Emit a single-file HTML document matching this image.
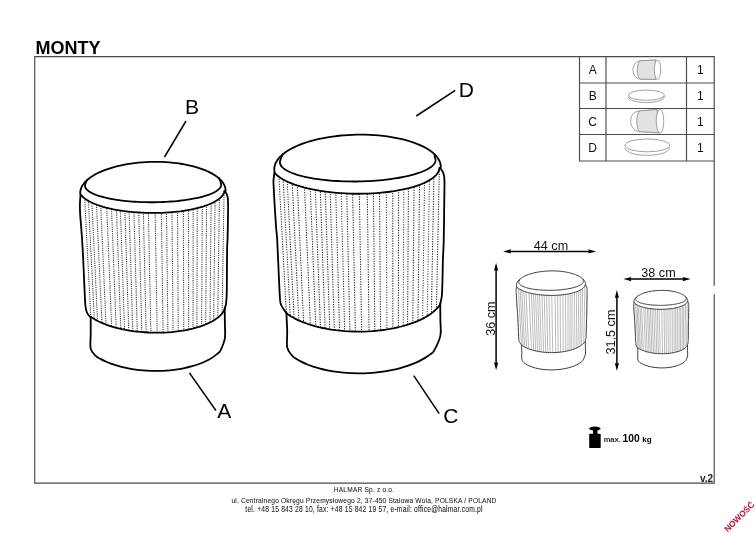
<!DOCTYPE html>
<html><head><meta charset="utf-8"><style>
html,body{margin:0;padding:0;background:#fff;}
body{width:756px;height:534px;overflow:hidden;position:relative;font-family:"Liberation Sans",sans-serif;}
svg{position:absolute;left:0;top:0;will-change:transform;}
.ol{stroke:#000;stroke-width:1.8;stroke-linejoin:round;stroke-linecap:round;fill:none;}
.pl line{stroke:#262626;stroke-width:1.05;}
.ld{stroke:#000;stroke-width:1.5;}
.tl{stroke:#4a4a4a;stroke-width:1.15;fill:none;}
.lab{font-size:21px;fill:#000;}
.tt{font-size:12px;fill:#111;}
.ft{font-size:6.6px;letter-spacing:0.19px;fill:#1a1a1a;stroke:#1a1a1a;stroke-width:0.06px;}
.mo{stroke:#383838;stroke-width:1;fill:none;vector-effect:non-scaling-stroke;stroke-linejoin:round;}
.mpl line{stroke:#9e9e9e;stroke-width:0.7;vector-effect:non-scaling-stroke;}
.th{stroke:#8a8a8a;stroke-width:0.8;fill:#fff;}
.ar{stroke:#000;stroke-width:1.5;}
.dim{font-size:12.6px;fill:#111;}
</style></head><body>
<svg width="756" height="534" viewBox="0 0 756 534">
<text x="35.6" y="54.3" style="font-weight:bold;font-size:18px">MONTY</text>
<path class="tl" d="M714.2,285.7 L714.2,56.6 L34.75,56.6 L34.75,483.1 L714.2,483.1 L714.2,294.3"/>
<path class="tl" d="M579.5,56.5 V161 H714.2 M606,56.5 V161 M686.5,56.5 V161 M579.5,83 H714.2 M579.5,108.5 H714.2 M579.5,134.5 H714.2"/>
<g class="tt" text-anchor="middle">
<text x="592.7" y="73.9">A</text><text x="592.7" y="99.6">B</text><text x="592.7" y="125.9">C</text><text x="592.7" y="151.9">D</text>
<text x="700.3" y="74.1">1</text><text x="700.3" y="100">1</text><text x="700.3" y="126">1</text><text x="700.3" y="152">1</text>
</g>

<clipPath id="lpc"><path d="M80.60,193.80 C80.48,195.67 79.97,201.47 79.90,205.00 C79.83,208.53 80.02,211.67 80.20,215.00 C80.38,218.33 80.68,220.83 81.00,225.00 C81.32,229.17 81.77,235.00 82.10,240.00 C82.43,245.00 82.67,248.33 83.00,255.00 C83.33,261.67 83.77,272.50 84.10,280.00 C84.43,287.50 84.77,295.67 85.00,300.00 C85.23,304.33 85.27,304.17 85.50,306.00 C85.73,307.83 85.92,309.50 86.40,311.00 C86.88,312.50 87.68,314.00 88.40,315.00 C89.12,316.00 90.32,316.67 90.70,317.00L91.03,316.93 L93.10,318.32 L95.34,319.66 L97.75,320.96 L100.33,322.21 L103.05,323.40 L105.92,324.53 L108.93,325.60 L112.06,326.60 L115.31,327.53 L118.68,328.40 L122.14,329.19 L125.70,329.90 L129.33,330.54 L133.03,331.10 L136.80,331.57 L140.61,331.96 L144.45,332.27 L148.33,332.50 L152.21,332.63 L156.10,332.69 L159.98,332.65 L163.85,332.53 L167.68,332.33 L171.47,332.04 L175.21,331.67 L178.89,331.21 L182.49,330.67 L186.01,330.05 L189.43,329.36 L192.75,328.58 L195.96,327.73 L199.05,326.82 L202.00,325.83 L204.81,324.77 L207.47,323.66 L209.98,322.48 L212.32,321.24 L214.49,319.96 L216.49,318.62 L218.31,317.24 L219.93,315.82 L221.37,314.36 L222.61,312.86 L223.65,311.34 L224.48,309.80 L225.11,308.23  L224.70,308.20 C224.88,307.67 225.52,306.37 225.80,305.00 C226.08,303.63 226.23,302.50 226.40,300.00 C226.57,297.50 226.68,298.33 226.80,290.00 C226.92,281.67 226.97,258.57 227.10,250.00 C227.23,241.43 227.47,243.32 227.60,238.60 C227.73,233.88 227.82,227.32 227.90,221.70 C227.98,216.08 228.12,208.83 228.10,204.90 C228.08,200.97 228.03,199.88 227.80,198.10 C227.57,196.32 227.23,195.35 226.70,194.20 C226.17,193.05 224.95,191.70 224.60,191.20 Z"/></clipPath>
<g clip-path="url(#lpc)" class="pl" stroke-dasharray="1.05 1.15"><line x1="83.99" y1="185" x2="91.98" y2="340" stroke-dashoffset="0.65"/><line x1="87.62" y1="185" x2="95.33" y2="340" stroke-dashoffset="0.30"/><line x1="91.04" y1="185" x2="98.49" y2="340" stroke-dashoffset="1.30"/><line x1="95.59" y1="185" x2="102.71" y2="340" stroke-dashoffset="0.14"/><line x1="99.84" y1="185" x2="106.64" y2="340" stroke-dashoffset="1.07"/><line x1="105.85" y1="185" x2="112.20" y2="340" stroke-dashoffset="0.73"/><line x1="110.61" y1="185" x2="116.61" y2="340" stroke-dashoffset="0.12"/><line x1="115.59" y1="185" x2="121.21" y2="340" stroke-dashoffset="1.01"/><line x1="119.52" y1="185" x2="124.86" y2="340" stroke-dashoffset="0.07"/><line x1="124.08" y1="185" x2="129.07" y2="340" stroke-dashoffset="0.87"/><line x1="128.33" y1="185" x2="133.01" y2="340" stroke-dashoffset="0.14"/><line x1="133.20" y1="185" x2="137.51" y2="340" stroke-dashoffset="0.18"/><line x1="138.06" y1="185" x2="142.02" y2="340" stroke-dashoffset="0.85"/><line x1="142.73" y1="185" x2="146.33" y2="340" stroke-dashoffset="1.65"/><line x1="147.80" y1="185" x2="151.03" y2="340" stroke-dashoffset="0.25"/><line x1="154.64" y1="185" x2="157.35" y2="340" stroke-dashoffset="0.45"/><line x1="160.96" y1="185" x2="163.20" y2="340" stroke-dashoffset="1.25"/><line x1="166.14" y1="185" x2="168.00" y2="340" stroke-dashoffset="1.90"/><line x1="171.73" y1="185" x2="173.17" y2="340" stroke-dashoffset="1.15"/><line x1="177.32" y1="185" x2="178.35" y2="340" stroke-dashoffset="0.79"/><line x1="183.23" y1="185" x2="183.81" y2="340" stroke-dashoffset="1.95"/><line x1="188.51" y1="185" x2="188.70" y2="340" stroke-dashoffset="0.09"/><line x1="193.17" y1="185" x2="193.02" y2="340" stroke-dashoffset="1.72"/><line x1="197.32" y1="185" x2="196.85" y2="340" stroke-dashoffset="0.58"/><line x1="202.39" y1="185" x2="201.55" y2="340" stroke-dashoffset="0.29"/><line x1="206.74" y1="185" x2="205.57" y2="340" stroke-dashoffset="0.24"/><line x1="211.30" y1="185" x2="209.79" y2="340" stroke-dashoffset="0.62"/><line x1="215.24" y1="185" x2="213.44" y2="340" stroke-dashoffset="1.63"/><line x1="219.59" y1="185" x2="217.46" y2="340" stroke-dashoffset="0.36"/><line x1="224.15" y1="185" x2="221.68" y2="340" stroke-dashoffset="1.16"/></g>
<path d="M80.60,193.80 C80.48,195.67 79.97,201.47 79.90,205.00 C79.83,208.53 80.02,211.67 80.20,215.00 C80.38,218.33 80.68,220.83 81.00,225.00 C81.32,229.17 81.77,235.00 82.10,240.00 C82.43,245.00 82.67,248.33 83.00,255.00 C83.33,261.67 83.77,272.50 84.10,280.00 C84.43,287.50 84.77,295.67 85.00,300.00 C85.23,304.33 85.27,304.17 85.50,306.00 C85.73,307.83 85.92,309.50 86.40,311.00 C86.88,312.50 87.68,314.00 88.40,315.00 C89.12,316.00 90.32,316.67 90.70,317.00" class="ol"/>
<path d="M224.60,191.20 C224.95,191.70 226.17,193.05 226.70,194.20 C227.23,195.35 227.57,196.32 227.80,198.10 C228.03,199.88 228.08,200.97 228.10,204.90 C228.12,208.83 227.98,216.08 227.90,221.70 C227.82,227.32 227.73,233.88 227.60,238.60 C227.47,243.32 227.23,241.43 227.10,250.00 C226.97,258.57 226.92,281.67 226.80,290.00 C226.68,298.33 226.57,297.50 226.40,300.00 C226.23,302.50 226.08,303.63 225.80,305.00 C225.52,306.37 224.88,307.67 224.70,308.20" class="ol"/>
<path d="M91.03,316.93 L93.10,318.32 L95.34,319.66 L97.75,320.96 L100.33,322.21 L103.05,323.40 L105.92,324.53 L108.93,325.60 L112.06,326.60 L115.31,327.53 L118.68,328.40 L122.14,329.19 L125.70,329.90 L129.33,330.54 L133.03,331.10 L136.80,331.57 L140.61,331.96 L144.45,332.27 L148.33,332.50 L152.21,332.63 L156.10,332.69 L159.98,332.65 L163.85,332.53 L167.68,332.33 L171.47,332.04 L175.21,331.67 L178.89,331.21 L182.49,330.67 L186.01,330.05 L189.43,329.36 L192.75,328.58 L195.96,327.73 L199.05,326.82 L202.00,325.83 L204.81,324.77 L207.47,323.66 L209.98,322.48 L212.32,321.24 L214.49,319.96 L216.49,318.62 L218.31,317.24 L219.93,315.82 L221.37,314.36 L222.61,312.86 L223.65,311.34 L224.48,309.80 L225.11,308.23 L224.90,340.50 L224.90,338.10 L220.43,350.60 L217.23,353.83 L213.30,356.87 L208.68,359.69 L203.42,362.25 L197.59,364.52 L191.26,366.49 L184.49,368.11 L177.37,369.39 L169.97,370.29 L162.40,370.81 L154.73,370.95 L147.05,370.70 L139.45,370.06 L132.03,369.05 L124.87,367.67 L118.04,365.94 L111.65,363.88 L105.74,361.52 L100.40,358.88 L95.70,355.99 L90.70,348.60 L90.70,351.00  Z" fill="#fff"/>
<path d="M91.03,316.93 L93.10,318.32 L95.34,319.66 L97.75,320.96 L100.33,322.21 L103.05,323.40 L105.92,324.53 L108.93,325.60 L112.06,326.60 L115.31,327.53 L118.68,328.40 L122.14,329.19 L125.70,329.90 L129.33,330.54 L133.03,331.10 L136.80,331.57 L140.61,331.96 L144.45,332.27 L148.33,332.50 L152.21,332.63 L156.10,332.69 L159.98,332.65 L163.85,332.53 L167.68,332.33 L171.47,332.04 L175.21,331.67 L178.89,331.21 L182.49,330.67 L186.01,330.05 L189.43,329.36 L192.75,328.58 L195.96,327.73 L199.05,326.82 L202.00,325.83 L204.81,324.77 L207.47,323.66 L209.98,322.48 L212.32,321.24 L214.49,319.96 L216.49,318.62 L218.31,317.24 L219.93,315.82 L221.37,314.36 L222.61,312.86 L223.65,311.34 L224.48,309.80 L225.11,308.23 " class="ol"/>
<path d="M90.70,317.00 C90.70,319.83 90.70,328.73 90.70,334.00 C90.70,339.27 89.87,344.93 90.70,348.60 C91.53,352.27 94.08,354.28 95.70,355.99 C97.31,357.71 98.73,357.96 100.40,358.88 C102.08,359.80 103.87,360.69 105.74,361.52 C107.62,362.35 109.59,363.15 111.65,363.88 C113.70,364.62 115.84,365.31 118.04,365.94 C120.25,366.57 122.54,367.15 124.87,367.67 C127.20,368.19 129.60,368.65 132.03,369.05 C134.46,369.45 136.95,369.79 139.45,370.06 C141.96,370.34 144.50,370.55 147.05,370.70 C149.59,370.84 152.17,370.93 154.73,370.95 C157.28,370.97 159.86,370.92 162.40,370.81 C164.94,370.70 167.48,370.53 169.97,370.29 C172.47,370.05 174.95,369.75 177.37,369.39 C179.79,369.02 182.17,368.60 184.49,368.11 C186.80,367.63 189.07,367.08 191.26,366.49 C193.44,365.89 195.57,365.23 197.59,364.52 C199.62,363.82 201.58,363.05 203.42,362.25 C205.27,361.44 207.03,360.58 208.68,359.69 C210.33,358.79 211.88,357.85 213.30,356.87 C214.73,355.89 216.04,354.87 217.23,353.83 C218.42,352.78 219.15,353.22 220.43,350.60 C221.71,347.98 224.15,342.47 224.90,338.10 C225.65,333.73 224.93,329.33 224.90,324.35 C224.87,319.37 224.73,310.89 224.70,308.20" class="ol"/>
<path d="M80.27,193.81 L80.26,192.20 L80.45,190.58 L80.85,188.97 L81.46,187.37 L82.28,185.78 L83.31,184.20 L84.54,182.65 L85.96,181.13 L87.58,179.64 L89.39,178.18 L91.39,176.76 L93.56,175.39 L95.91,174.06 L98.42,172.79 L101.09,171.57 L103.91,170.41 L106.87,169.31 L109.97,168.28 L113.19,167.31 L116.52,166.42 L119.97,165.60 L123.50,164.86 L127.13,164.19 L130.83,163.61 L134.59,163.11 L138.40,162.69 L142.26,162.35 L146.15,162.10 L150.06,161.94 L153.98,161.87 L157.89,161.88 L161.79,161.97 L165.66,162.16 L169.50,162.43 L173.29,162.79 L177.02,163.23 L180.68,163.75 L184.26,164.36 L187.75,165.04 L191.13,165.80 L194.41,166.64 L197.57,167.55 L200.59,168.53 L203.48,169.58 L206.22,170.70 L208.81,171.87 L211.23,173.11 L213.49,174.40 L215.57,175.73 L217.46,177.12 L219.17,178.55 L220.69,180.01 L222.01,181.51 L223.13,183.05 L224.05,184.60 L224.76,186.18 L225.26,187.77 L225.55,189.38 L225.63,190.99 L224.37,190.99 L224.12,192.24 L223.66,193.48 L223.00,194.71 L222.12,195.93 L221.05,197.12 L219.77,198.30 L218.29,199.45 L216.62,200.58 L214.75,201.67 L212.71,202.72 L210.49,203.74 L208.09,204.72 L205.54,205.66 L202.82,206.55 L199.96,207.39 L196.95,208.18 L193.82,208.91 L190.56,209.59 L187.19,210.21 L183.71,210.77 L180.14,211.28 L176.49,211.71 L172.77,212.09 L168.99,212.40 L165.15,212.64 L161.28,212.82 L157.37,212.93 L153.45,212.97 L149.53,212.95 L145.61,212.86 L141.71,212.70 L137.84,212.47 L134.01,212.18 L130.23,211.82 L126.51,211.40 L122.86,210.92 L119.30,210.37 L115.84,209.77 L112.47,209.10 L109.23,208.38 L106.10,207.61 L103.11,206.78 L100.26,205.91 L97.55,204.98 L95.01,204.02 L92.63,203.01 L90.42,201.96 L88.39,200.88 L86.55,199.76 L84.89,198.62 L83.43,197.45 L82.16,196.26 L81.10,195.05 L80.25,193.82  Z" class="ol" style="fill:#fff"/>
<path d="M87.59,179.63 C86.07,180.93 85.89,182.29 85.25,184.18 L85.06,184.90 L85.00,185.62 L85.05,186.33 L85.23,187.05 L85.52,187.76 L85.94,188.46 L86.47,189.16 L87.12,189.86 L87.89,190.54 L88.77,191.22 L89.76,191.88 L90.87,192.54 L92.08,193.18 L93.41,193.80 L94.83,194.41 L96.37,195.01 L98.00,195.59 L99.72,196.15 L101.55,196.69 L103.46,197.21 L105.46,197.71 L107.54,198.18 L109.71,198.64 L111.95,199.07 L114.26,199.47 L116.64,199.85 L119.09,200.21 L121.59,200.54 L124.16,200.84 L126.77,201.11 L129.43,201.36 L132.13,201.57 L134.86,201.76 L137.63,201.92 L140.43,202.05 L143.25,202.15 L146.09,202.22 L148.94,202.26 L151.79,202.27 L154.65,202.25 L157.51,202.20 L160.35,202.12 L163.19,202.01 L166.01,201.87 L168.80,201.71 L171.57,201.51 L174.30,201.28 L177.00,201.03 L179.66,200.74 L182.26,200.43 L184.82,200.10 L187.32,199.73 L189.76,199.34 L192.14,198.93 L194.45,198.49 L196.68,198.03 L198.84,197.55 L200.92,197.04 L202.91,196.51 L204.81,195.97 L206.63,195.40 L208.35,194.82 L209.97,194.22 L211.49,193.60 L212.91,192.97 L214.23,192.33 L215.43,191.67 L216.53,191.00 L217.51,190.32 L218.39,189.63 L219.14,188.94 L219.78,188.23 L220.30,187.53 L220.71,186.81 L220.99,186.10 L221.16,185.38 L221.20,184.67 L221.13,183.95 L220.94,183.24 C220.26,181.35 220.33,179.55 218.82,178.24" class="ol"/>


<clipPath id="rpc"><path d="M274.50,172.60 C274.33,173.92 273.62,177.67 273.50,180.50 C273.38,183.33 273.57,184.82 273.80,189.60 C274.03,194.38 274.50,202.67 274.90,209.20 C275.30,215.73 275.82,223.67 276.20,228.80 C276.58,233.93 276.73,231.47 277.20,240.00 C277.67,248.53 278.52,270.00 279.00,280.00 C279.48,290.00 279.73,295.83 280.10,300.00 C280.47,304.17 280.52,303.33 281.20,305.00 C281.88,306.67 283.33,308.67 284.20,310.00 C285.07,311.33 286.03,312.50 286.40,313.00L286.10,313.08 L288.53,314.81 L291.17,316.48 L294.01,318.08 L297.04,319.62 L300.26,321.07 L303.65,322.45 L307.21,323.74 L310.92,324.95 L314.77,326.06 L318.75,327.08 L322.85,328.00 L327.07,328.82 L331.37,329.54 L335.76,330.15 L340.21,330.66 L344.73,331.05 L349.28,331.34 L353.87,331.52 L358.46,331.58 L363.07,331.54 L367.65,331.38 L372.22,331.11 L376.74,330.73 L381.21,330.25 L385.62,329.65 L389.94,328.96 L394.18,328.15 L398.31,327.25 L402.32,326.25 L406.21,325.15 L409.95,323.96 L413.55,322.68 L416.98,321.32 L420.24,319.88 L423.32,318.36 L426.21,316.77 L428.89,315.11 L431.37,313.39 L433.64,311.61 L435.69,309.78 L437.50,307.90 L439.09,305.98 L440.43,304.03  L440.20,304.00 C440.35,303.33 440.82,301.50 441.10,300.00 C441.38,298.50 441.67,298.33 441.90,295.00 C442.13,291.67 442.33,285.83 442.50,280.00 C442.67,274.17 442.70,266.38 442.90,260.00 C443.10,253.62 443.48,250.57 443.70,241.70 C443.92,232.83 444.07,216.35 444.20,206.80 C444.33,197.25 444.50,189.38 444.50,184.40 C444.50,179.42 444.50,179.02 444.20,176.90 C443.90,174.78 443.38,173.18 442.70,171.70 C442.02,170.22 440.53,168.62 440.10,168.00 Z"/></clipPath>
<g clip-path="url(#rpc)" class="pl" stroke-dasharray="1.2 1.3"><line x1="278.04" y1="160" x2="287.80" y2="340" stroke-dashoffset="1.28"/><line x1="282.12" y1="160" x2="291.54" y2="340" stroke-dashoffset="0.74"/><line x1="286.10" y1="160" x2="295.19" y2="340" stroke-dashoffset="1.10"/><line x1="291.13" y1="160" x2="299.79" y2="340" stroke-dashoffset="0.13"/><line x1="296.16" y1="160" x2="304.40" y2="340" stroke-dashoffset="0.12"/><line x1="303.38" y1="160" x2="311.02" y2="340" stroke-dashoffset="0.41"/><line x1="309.14" y1="160" x2="316.30" y2="340" stroke-dashoffset="1.36"/><line x1="314.17" y1="160" x2="320.91" y2="340" stroke-dashoffset="0.86"/><line x1="319.20" y1="160" x2="325.51" y2="340" stroke-dashoffset="0.63"/><line x1="324.22" y1="160" x2="330.12" y2="340" stroke-dashoffset="1.17"/><line x1="329.15" y1="160" x2="334.63" y2="340" stroke-dashoffset="0.91"/><line x1="334.80" y1="160" x2="339.81" y2="340" stroke-dashoffset="0.60"/><line x1="340.35" y1="160" x2="344.89" y2="340" stroke-dashoffset="1.59"/><line x1="346.01" y1="160" x2="350.08" y2="340" stroke-dashoffset="1.40"/><line x1="351.98" y1="160" x2="355.55" y2="340" stroke-dashoffset="0.49"/><line x1="358.78" y1="160" x2="361.78" y2="340" stroke-dashoffset="1.15"/><line x1="366.85" y1="160" x2="369.17" y2="340" stroke-dashoffset="1.05"/><line x1="373.13" y1="160" x2="374.93" y2="340" stroke-dashoffset="1.75"/><line x1="379.31" y1="160" x2="380.59" y2="340" stroke-dashoffset="1.46"/><line x1="386.22" y1="160" x2="386.92" y2="340" stroke-dashoffset="0.58"/><line x1="392.72" y1="160" x2="392.87" y2="340" stroke-dashoffset="1.96"/><line x1="398.69" y1="160" x2="398.34" y2="340" stroke-dashoffset="0.24"/><line x1="403.92" y1="160" x2="403.14" y2="340" stroke-dashoffset="0.84"/><line x1="408.63" y1="160" x2="407.46" y2="340" stroke-dashoffset="1.51"/><line x1="414.29" y1="160" x2="412.64" y2="340" stroke-dashoffset="0.30"/><line x1="419.84" y1="160" x2="417.72" y2="340" stroke-dashoffset="0.98"/><line x1="424.87" y1="160" x2="422.33" y2="340" stroke-dashoffset="0.08"/><line x1="429.79" y1="160" x2="426.84" y2="340" stroke-dashoffset="1.34"/><line x1="434.19" y1="160" x2="430.87" y2="340" stroke-dashoffset="1.53"/><line x1="439.53" y1="160" x2="435.76" y2="340" stroke-dashoffset="1.15"/></g>
<path d="M274.50,172.60 C274.33,173.92 273.62,177.67 273.50,180.50 C273.38,183.33 273.57,184.82 273.80,189.60 C274.03,194.38 274.50,202.67 274.90,209.20 C275.30,215.73 275.82,223.67 276.20,228.80 C276.58,233.93 276.73,231.47 277.20,240.00 C277.67,248.53 278.52,270.00 279.00,280.00 C279.48,290.00 279.73,295.83 280.10,300.00 C280.47,304.17 280.52,303.33 281.20,305.00 C281.88,306.67 283.33,308.67 284.20,310.00 C285.07,311.33 286.03,312.50 286.40,313.00" class="ol"/>
<path d="M440.10,168.00 C440.53,168.62 442.02,170.22 442.70,171.70 C443.38,173.18 443.90,174.78 444.20,176.90 C444.50,179.02 444.50,179.42 444.50,184.40 C444.50,189.38 444.33,197.25 444.20,206.80 C444.07,216.35 443.92,232.83 443.70,241.70 C443.48,250.57 443.10,253.62 442.90,260.00 C442.70,266.38 442.67,274.17 442.50,280.00 C442.33,285.83 442.13,291.67 441.90,295.00 C441.67,298.33 441.38,298.50 441.10,300.00 C440.82,301.50 440.35,303.33 440.20,304.00" class="ol"/>
<path d="M286.10,313.08 L288.53,314.81 L291.17,316.48 L294.01,318.08 L297.04,319.62 L300.26,321.07 L303.65,322.45 L307.21,323.74 L310.92,324.95 L314.77,326.06 L318.75,327.08 L322.85,328.00 L327.07,328.82 L331.37,329.54 L335.76,330.15 L340.21,330.66 L344.73,331.05 L349.28,331.34 L353.87,331.52 L358.46,331.58 L363.07,331.54 L367.65,331.38 L372.22,331.11 L376.74,330.73 L381.21,330.25 L385.62,329.65 L389.94,328.96 L394.18,328.15 L398.31,327.25 L402.32,326.25 L406.21,325.15 L409.95,323.96 L413.55,322.68 L416.98,321.32 L420.24,319.88 L423.32,318.36 L426.21,316.77 L428.89,315.11 L431.37,313.39 L433.64,311.61 L435.69,309.78 L437.50,307.90 L439.09,305.98 L440.43,304.03 L440.40,338.00 L440.40,335.60 L433.98,350.92 L430.11,354.37 L425.47,357.62 L420.12,360.64 L414.10,363.41 L407.48,365.88 L400.36,368.04 L392.79,369.85 L384.88,371.30 L376.70,372.36 L368.36,373.03 L359.95,373.31 L351.56,373.17 L343.29,372.64 L335.23,371.70 L327.48,370.39 L320.12,368.70 L313.24,366.66 L306.92,364.29 L301.22,361.62 L296.21,358.68 L291.95,355.50 L287.20,347.40 L287.20,349.80  Z" fill="#fff"/>
<path d="M286.10,313.08 L288.53,314.81 L291.17,316.48 L294.01,318.08 L297.04,319.62 L300.26,321.07 L303.65,322.45 L307.21,323.74 L310.92,324.95 L314.77,326.06 L318.75,327.08 L322.85,328.00 L327.07,328.82 L331.37,329.54 L335.76,330.15 L340.21,330.66 L344.73,331.05 L349.28,331.34 L353.87,331.52 L358.46,331.58 L363.07,331.54 L367.65,331.38 L372.22,331.11 L376.74,330.73 L381.21,330.25 L385.62,329.65 L389.94,328.96 L394.18,328.15 L398.31,327.25 L402.32,326.25 L406.21,325.15 L409.95,323.96 L413.55,322.68 L416.98,321.32 L420.24,319.88 L423.32,318.36 L426.21,316.77 L428.89,315.11 L431.37,313.39 L433.64,311.61 L435.69,309.78 L437.50,307.90 L439.09,305.98 L440.43,304.03 " class="ol"/>
<path d="M286.40,313.00 C286.53,316.07 287.07,325.67 287.20,331.40 C287.33,337.13 286.41,343.38 287.20,347.40 C287.99,351.42 290.45,353.62 291.95,355.50 C293.46,357.38 294.67,357.66 296.21,358.68 C297.76,359.70 299.43,360.68 301.22,361.62 C303.00,362.55 304.91,363.45 306.92,364.29 C308.92,365.13 311.04,365.92 313.24,366.66 C315.44,367.39 317.75,368.08 320.12,368.70 C322.50,369.32 324.96,369.88 327.48,370.39 C330.00,370.89 332.60,371.33 335.23,371.70 C337.87,372.08 340.57,372.39 343.29,372.64 C346.01,372.88 348.78,373.06 351.56,373.17 C354.34,373.28 357.15,373.33 359.95,373.31 C362.75,373.28 365.57,373.19 368.36,373.03 C371.15,372.88 373.95,372.65 376.70,372.36 C379.45,372.07 382.19,371.72 384.88,371.30 C387.56,370.88 390.21,370.39 392.79,369.85 C395.37,369.31 397.91,368.70 400.36,368.04 C402.80,367.38 405.19,366.66 407.48,365.88 C409.77,365.11 411.99,364.28 414.10,363.41 C416.20,362.54 418.22,361.61 420.12,360.64 C422.01,359.68 423.81,358.66 425.47,357.62 C427.14,356.57 428.70,355.48 430.11,354.37 C431.53,353.25 432.26,354.05 433.98,350.92 C435.69,347.80 439.33,340.59 440.40,335.60 C441.47,330.61 440.43,326.27 440.40,321.00 C440.37,315.73 440.23,306.83 440.20,304.00" class="ol"/>
<path d="M274.73,172.59 L274.39,170.81 L274.28,169.02 L274.42,167.23 L274.79,165.45 L275.40,163.66 L276.25,161.90 L277.34,160.15 L278.65,158.42 L280.19,156.72 L281.96,155.05 L283.94,153.42 L286.13,151.83 L288.53,150.29 L291.13,148.80 L293.92,147.37 L296.89,145.99 L300.04,144.68 L303.35,143.43 L306.82,142.26 L310.44,141.16 L314.19,140.13 L318.06,139.19 L322.05,138.33 L326.14,137.55 L330.32,136.87 L334.58,136.27 L338.91,135.76 L343.29,135.35 L347.71,135.03 L352.16,134.81 L356.62,134.68 L361.09,134.65 L365.55,134.71 L369.98,134.87 L374.38,135.12 L378.73,135.47 L383.02,135.91 L387.23,136.45 L391.36,137.08 L395.40,137.79 L399.32,138.59 L403.12,139.48 L406.79,140.45 L410.32,141.50 L413.70,142.62 L416.92,143.82 L419.96,145.09 L422.82,146.42 L425.50,147.81 L427.98,149.27 L430.26,150.77 L432.33,152.33 L434.18,153.93 L435.81,155.58 L437.22,157.25 L438.40,158.96 L439.34,160.70 L440.05,162.45 L440.52,164.23 L440.76,166.01 L440.75,167.80 L439.43,167.79 L439.25,169.26 L438.83,170.72 L438.16,172.17 L437.25,173.60 L436.10,175.02 L434.71,176.40 L433.09,177.76 L431.25,179.09 L429.18,180.38 L426.89,181.63 L424.39,182.83 L421.70,183.99 L418.80,185.09 L415.73,186.14 L412.47,187.14 L409.05,188.07 L405.47,188.94 L401.75,189.74 L397.89,190.48 L393.90,191.15 L389.80,191.74 L385.60,192.26 L381.32,192.70 L376.95,193.07 L372.53,193.36 L368.05,193.57 L363.54,193.70 L359.01,193.76 L354.46,193.73 L349.92,193.62 L345.39,193.43 L340.90,193.17 L336.44,192.82 L332.05,192.40 L327.72,191.90 L323.47,191.33 L319.32,190.69 L315.28,189.97 L311.35,189.19 L307.55,188.34 L303.90,187.43 L300.39,186.45 L297.05,185.42 L293.88,184.33 L290.89,183.18 L288.10,181.99 L285.49,180.76 L283.10,179.48 L280.92,178.17 L278.96,176.82 L277.22,175.44 L275.71,174.03 L274.44,172.60  Z" class="ol" style="fill:#fff"/>
<path d="M283.26,153.95 C281.31,155.52 281.46,157.57 280.43,159.85 L280.10,160.72 L279.92,161.59 L279.89,162.47 L279.99,163.33 L280.24,164.20 L280.63,165.06 L281.17,165.91 L281.84,166.75 L282.65,167.59 L283.60,168.41 L284.69,169.22 L285.91,170.01 L287.27,170.79 L288.75,171.55 L290.36,172.29 L292.09,173.01 L293.94,173.70 L295.91,174.38 L298.00,175.03 L300.19,175.65 L302.49,176.25 L304.89,176.82 L307.39,177.36 L309.98,177.88 L312.66,178.36 L315.42,178.81 L318.26,179.22 L321.17,179.61 L324.15,179.96 L327.19,180.27 L330.28,180.55 L333.43,180.80 L336.62,181.01 L339.85,181.18 L343.11,181.31 L346.40,181.41 L349.71,181.47 L353.04,181.50 L356.37,181.48 L359.71,181.43 L363.04,181.34 L366.36,181.22 L369.67,181.06 L372.95,180.86 L376.21,180.62 L379.43,180.35 L382.62,180.04 L385.75,179.70 L388.84,179.33 L391.87,178.92 L394.83,178.48 L397.73,178.01 L400.56,177.50 L403.30,176.97 L405.97,176.41 L408.54,175.81 L411.02,175.20 L413.40,174.55 L415.68,173.88 L417.85,173.19 L419.92,172.48 L421.87,171.74 L423.70,170.99 L425.41,170.22 L426.99,169.43 L428.45,168.62 L429.78,167.81 L430.98,166.98 L432.04,166.14 L432.96,165.29 L433.75,164.43 L434.40,163.56 L434.90,162.70 L435.27,161.83 L435.49,160.95 L435.57,160.08 L435.51,159.21 L435.30,158.34 L434.95,157.48 C433.85,155.24 435.79,155.40 433.95,153.72" class="ol"/>


<!-- table thumbnails -->
<g class="th">
<path d="M640.1,60.8 C635.5,61.5 633,65.5 633,69.9 C633,74.3 635.5,78.3 640,79.1 L656,79.4 L656,60 Z"/>
<path d="M640.1,60.8 C638.3,62 637.3,66 637.3,69.9 C637.3,73.8 638.3,77.8 640,79.1 L656,79.4 L655.5,60 Z" style="fill:#e2e2e2"/>
<ellipse cx="657.5" cy="69.6" rx="3.15" ry="9.8"/>
<path d="M628.4,96.8 C629,100.5 637,102.6 646.4,102.6 C656,102.6 664,100 664.5,96" style="fill:none"/>
<ellipse cx="646.4" cy="95.2" rx="18" ry="5.1"/>
<path d="M639.3,110.9 C633.5,111.5 630.7,116 630.7,120.9 C630.7,126 633.5,131 639.3,131.7 L658.8,132.8 L657.1,109.5 Z"/>
<path d="M639.3,110.9 C637.8,112.5 636.8,116.5 636.8,120.9 C636.8,125.3 637.8,129.8 639.3,131.7 L658.8,132.8 L657.1,109.5 Z" style="fill:#e2e2e2"/>
<ellipse cx="660" cy="121.2" rx="3.75" ry="11.9"/>
<path d="M625,148 C626,152.5 635,155.3 647.3,155.3 C660,155.3 669,152.5 669.6,147.5" style="fill:none"/>
<ellipse cx="647.3" cy="145.4" rx="22.3" ry="6.4"/>
</g>
<!-- dimension minis -->

<g transform="translate(402.63,215.00) scale(0.415)" class="mini">
<clipPath id="m1c"><path d="M274.50,172.60 C274.33,173.92 273.62,177.67 273.50,180.50 C273.38,183.33 273.57,184.82 273.80,189.60 C274.03,194.38 274.50,202.67 274.90,209.20 C275.30,215.73 275.82,223.67 276.20,228.80 C276.58,233.93 276.73,231.47 277.20,240.00 C277.67,248.53 278.52,270.00 279.00,280.00 C279.48,290.00 279.73,295.83 280.10,300.00 C280.47,304.17 280.52,303.33 281.20,305.00 C281.88,306.67 283.33,308.67 284.20,310.00 C285.07,311.33 286.03,312.50 286.40,313.00L286.10,313.08 L288.53,314.81 L291.17,316.48 L294.01,318.08 L297.04,319.62 L300.26,321.07 L303.65,322.45 L307.21,323.74 L310.92,324.95 L314.77,326.06 L318.75,327.08 L322.85,328.00 L327.07,328.82 L331.37,329.54 L335.76,330.15 L340.21,330.66 L344.73,331.05 L349.28,331.34 L353.87,331.52 L358.46,331.58 L363.07,331.54 L367.65,331.38 L372.22,331.11 L376.74,330.73 L381.21,330.25 L385.62,329.65 L389.94,328.96 L394.18,328.15 L398.31,327.25 L402.32,326.25 L406.21,325.15 L409.95,323.96 L413.55,322.68 L416.98,321.32 L420.24,319.88 L423.32,318.36 L426.21,316.77 L428.89,315.11 L431.37,313.39 L433.64,311.61 L435.69,309.78 L437.50,307.90 L439.09,305.98 L440.43,304.03  L440.20,304.00 C440.35,303.33 440.82,301.50 441.10,300.00 C441.38,298.50 441.67,298.33 441.90,295.00 C442.13,291.67 442.33,285.83 442.50,280.00 C442.67,274.17 442.70,266.38 442.90,260.00 C443.10,253.62 443.48,250.57 443.70,241.70 C443.92,232.83 444.07,216.35 444.20,206.80 C444.33,197.25 444.50,189.38 444.50,184.40 C444.50,179.42 444.50,179.02 444.20,176.90 C443.90,174.78 443.38,173.18 442.70,171.70 C442.02,170.22 440.53,168.62 440.10,168.00 Z"/></clipPath>
<g clip-path="url(#m1c)" class="mpl"><line x1="278.04" y1="160" x2="287.80" y2="340"/><line x1="282.12" y1="160" x2="291.54" y2="340"/><line x1="286.10" y1="160" x2="295.19" y2="340"/><line x1="291.13" y1="160" x2="299.79" y2="340"/><line x1="296.16" y1="160" x2="304.40" y2="340"/><line x1="303.38" y1="160" x2="311.02" y2="340"/><line x1="309.14" y1="160" x2="316.30" y2="340"/><line x1="314.17" y1="160" x2="320.91" y2="340"/><line x1="319.20" y1="160" x2="325.51" y2="340"/><line x1="324.22" y1="160" x2="330.12" y2="340"/><line x1="329.15" y1="160" x2="334.63" y2="340"/><line x1="334.80" y1="160" x2="339.81" y2="340"/><line x1="340.35" y1="160" x2="344.89" y2="340"/><line x1="346.01" y1="160" x2="350.08" y2="340"/><line x1="351.98" y1="160" x2="355.55" y2="340"/><line x1="358.78" y1="160" x2="361.78" y2="340"/><line x1="366.85" y1="160" x2="369.17" y2="340"/><line x1="373.13" y1="160" x2="374.93" y2="340"/><line x1="379.31" y1="160" x2="380.59" y2="340"/><line x1="386.22" y1="160" x2="386.92" y2="340"/><line x1="392.72" y1="160" x2="392.87" y2="340"/><line x1="398.69" y1="160" x2="398.34" y2="340"/><line x1="403.92" y1="160" x2="403.14" y2="340"/><line x1="408.63" y1="160" x2="407.46" y2="340"/><line x1="414.29" y1="160" x2="412.64" y2="340"/><line x1="419.84" y1="160" x2="417.72" y2="340"/><line x1="424.87" y1="160" x2="422.33" y2="340"/><line x1="429.79" y1="160" x2="426.84" y2="340"/><line x1="434.19" y1="160" x2="430.87" y2="340"/><line x1="439.53" y1="160" x2="435.76" y2="340"/></g>
<path d="M274.50,172.60 C274.33,173.92 273.62,177.67 273.50,180.50 C273.38,183.33 273.57,184.82 273.80,189.60 C274.03,194.38 274.50,202.67 274.90,209.20 C275.30,215.73 275.82,223.67 276.20,228.80 C276.58,233.93 276.73,231.47 277.20,240.00 C277.67,248.53 278.52,270.00 279.00,280.00 C279.48,290.00 279.73,295.83 280.10,300.00 C280.47,304.17 280.52,303.33 281.20,305.00 C281.88,306.67 283.33,308.67 284.20,310.00 C285.07,311.33 286.03,312.50 286.40,313.00" class="mo"/>
<path d="M440.10,168.00 C440.53,168.62 442.02,170.22 442.70,171.70 C443.38,173.18 443.90,174.78 444.20,176.90 C444.50,179.02 444.50,179.42 444.50,184.40 C444.50,189.38 444.33,197.25 444.20,206.80 C444.07,216.35 443.92,232.83 443.70,241.70 C443.48,250.57 443.10,253.62 442.90,260.00 C442.70,266.38 442.67,274.17 442.50,280.00 C442.33,285.83 442.13,291.67 441.90,295.00 C441.67,298.33 441.38,298.50 441.10,300.00 C440.82,301.50 440.35,303.33 440.20,304.00" class="mo"/>
<path d="M286.10,313.08 L288.53,314.81 L291.17,316.48 L294.01,318.08 L297.04,319.62 L300.26,321.07 L303.65,322.45 L307.21,323.74 L310.92,324.95 L314.77,326.06 L318.75,327.08 L322.85,328.00 L327.07,328.82 L331.37,329.54 L335.76,330.15 L340.21,330.66 L344.73,331.05 L349.28,331.34 L353.87,331.52 L358.46,331.58 L363.07,331.54 L367.65,331.38 L372.22,331.11 L376.74,330.73 L381.21,330.25 L385.62,329.65 L389.94,328.96 L394.18,328.15 L398.31,327.25 L402.32,326.25 L406.21,325.15 L409.95,323.96 L413.55,322.68 L416.98,321.32 L420.24,319.88 L423.32,318.36 L426.21,316.77 L428.89,315.11 L431.37,313.39 L433.64,311.61 L435.69,309.78 L437.50,307.90 L439.09,305.98 L440.43,304.03 L440.40,338.00 L440.40,335.60 L433.98,350.92 L430.11,354.37 L425.47,357.62 L420.12,360.64 L414.10,363.41 L407.48,365.88 L400.36,368.04 L392.79,369.85 L384.88,371.30 L376.70,372.36 L368.36,373.03 L359.95,373.31 L351.56,373.17 L343.29,372.64 L335.23,371.70 L327.48,370.39 L320.12,368.70 L313.24,366.66 L306.92,364.29 L301.22,361.62 L296.21,358.68 L291.95,355.50 L287.20,347.40 L287.20,349.80  Z" fill="#fff"/>
<path d="M286.10,313.08 L288.53,314.81 L291.17,316.48 L294.01,318.08 L297.04,319.62 L300.26,321.07 L303.65,322.45 L307.21,323.74 L310.92,324.95 L314.77,326.06 L318.75,327.08 L322.85,328.00 L327.07,328.82 L331.37,329.54 L335.76,330.15 L340.21,330.66 L344.73,331.05 L349.28,331.34 L353.87,331.52 L358.46,331.58 L363.07,331.54 L367.65,331.38 L372.22,331.11 L376.74,330.73 L381.21,330.25 L385.62,329.65 L389.94,328.96 L394.18,328.15 L398.31,327.25 L402.32,326.25 L406.21,325.15 L409.95,323.96 L413.55,322.68 L416.98,321.32 L420.24,319.88 L423.32,318.36 L426.21,316.77 L428.89,315.11 L431.37,313.39 L433.64,311.61 L435.69,309.78 L437.50,307.90 L439.09,305.98 L440.43,304.03 " class="mo"/>
<path d="M286.40,313.00 C286.53,316.07 287.07,325.67 287.20,331.40 C287.33,337.13 286.41,343.38 287.20,347.40 C287.99,351.42 290.45,353.62 291.95,355.50 C293.46,357.38 294.67,357.66 296.21,358.68 C297.76,359.70 299.43,360.68 301.22,361.62 C303.00,362.55 304.91,363.45 306.92,364.29 C308.92,365.13 311.04,365.92 313.24,366.66 C315.44,367.39 317.75,368.08 320.12,368.70 C322.50,369.32 324.96,369.88 327.48,370.39 C330.00,370.89 332.60,371.33 335.23,371.70 C337.87,372.08 340.57,372.39 343.29,372.64 C346.01,372.88 348.78,373.06 351.56,373.17 C354.34,373.28 357.15,373.33 359.95,373.31 C362.75,373.28 365.57,373.19 368.36,373.03 C371.15,372.88 373.95,372.65 376.70,372.36 C379.45,372.07 382.19,371.72 384.88,371.30 C387.56,370.88 390.21,370.39 392.79,369.85 C395.37,369.31 397.91,368.70 400.36,368.04 C402.80,367.38 405.19,366.66 407.48,365.88 C409.77,365.11 411.99,364.28 414.10,363.41 C416.20,362.54 418.22,361.61 420.12,360.64 C422.01,359.68 423.81,358.66 425.47,357.62 C427.14,356.57 428.70,355.48 430.11,354.37 C431.53,353.25 432.26,354.05 433.98,350.92 C435.69,347.80 439.33,340.59 440.40,335.60 C441.47,330.61 440.43,326.27 440.40,321.00 C440.37,315.73 440.23,306.83 440.20,304.00" class="mo"/>
<path d="M274.73,172.59 L274.39,170.81 L274.28,169.02 L274.42,167.23 L274.79,165.45 L275.40,163.66 L276.25,161.90 L277.34,160.15 L278.65,158.42 L280.19,156.72 L281.96,155.05 L283.94,153.42 L286.13,151.83 L288.53,150.29 L291.13,148.80 L293.92,147.37 L296.89,145.99 L300.04,144.68 L303.35,143.43 L306.82,142.26 L310.44,141.16 L314.19,140.13 L318.06,139.19 L322.05,138.33 L326.14,137.55 L330.32,136.87 L334.58,136.27 L338.91,135.76 L343.29,135.35 L347.71,135.03 L352.16,134.81 L356.62,134.68 L361.09,134.65 L365.55,134.71 L369.98,134.87 L374.38,135.12 L378.73,135.47 L383.02,135.91 L387.23,136.45 L391.36,137.08 L395.40,137.79 L399.32,138.59 L403.12,139.48 L406.79,140.45 L410.32,141.50 L413.70,142.62 L416.92,143.82 L419.96,145.09 L422.82,146.42 L425.50,147.81 L427.98,149.27 L430.26,150.77 L432.33,152.33 L434.18,153.93 L435.81,155.58 L437.22,157.25 L438.40,158.96 L439.34,160.70 L440.05,162.45 L440.52,164.23 L440.76,166.01 L440.75,167.80 L439.43,167.79 L439.25,169.26 L438.83,170.72 L438.16,172.17 L437.25,173.60 L436.10,175.02 L434.71,176.40 L433.09,177.76 L431.25,179.09 L429.18,180.38 L426.89,181.63 L424.39,182.83 L421.70,183.99 L418.80,185.09 L415.73,186.14 L412.47,187.14 L409.05,188.07 L405.47,188.94 L401.75,189.74 L397.89,190.48 L393.90,191.15 L389.80,191.74 L385.60,192.26 L381.32,192.70 L376.95,193.07 L372.53,193.36 L368.05,193.57 L363.54,193.70 L359.01,193.76 L354.46,193.73 L349.92,193.62 L345.39,193.43 L340.90,193.17 L336.44,192.82 L332.05,192.40 L327.72,191.90 L323.47,191.33 L319.32,190.69 L315.28,189.97 L311.35,189.19 L307.55,188.34 L303.90,187.43 L300.39,186.45 L297.05,185.42 L293.88,184.33 L290.89,183.18 L288.10,181.99 L285.49,180.76 L283.10,179.48 L280.92,178.17 L278.96,176.82 L277.22,175.44 L275.71,174.03 L274.44,172.60  Z" class="mo" style="fill:#fff"/>
<path d="M283.26,153.95 C281.31,155.52 281.46,157.57 280.43,159.85 L280.10,160.72 L279.92,161.59 L279.89,162.47 L279.99,163.33 L280.24,164.20 L280.63,165.06 L281.17,165.91 L281.84,166.75 L282.65,167.59 L283.60,168.41 L284.69,169.22 L285.91,170.01 L287.27,170.79 L288.75,171.55 L290.36,172.29 L292.09,173.01 L293.94,173.70 L295.91,174.38 L298.00,175.03 L300.19,175.65 L302.49,176.25 L304.89,176.82 L307.39,177.36 L309.98,177.88 L312.66,178.36 L315.42,178.81 L318.26,179.22 L321.17,179.61 L324.15,179.96 L327.19,180.27 L330.28,180.55 L333.43,180.80 L336.62,181.01 L339.85,181.18 L343.11,181.31 L346.40,181.41 L349.71,181.47 L353.04,181.50 L356.37,181.48 L359.71,181.43 L363.04,181.34 L366.36,181.22 L369.67,181.06 L372.95,180.86 L376.21,180.62 L379.43,180.35 L382.62,180.04 L385.75,179.70 L388.84,179.33 L391.87,178.92 L394.83,178.48 L397.73,178.01 L400.56,177.50 L403.30,176.97 L405.97,176.41 L408.54,175.81 L411.02,175.20 L413.40,174.55 L415.68,173.88 L417.85,173.19 L419.92,172.48 L421.87,171.74 L423.70,170.99 L425.41,170.22 L426.99,169.43 L428.45,168.62 L429.78,167.81 L430.98,166.98 L432.04,166.14 L432.96,165.29 L433.75,164.43 L434.40,163.56 L434.90,162.70 L435.27,161.83 L435.49,160.95 L435.57,160.08 L435.51,159.21 L435.30,158.34 L434.95,157.48 C433.85,155.24 435.79,155.40 433.95,153.72" class="mo"/>
</g>
<g transform="translate(604.14,230.30) scale(0.371)" class="mini">
<clipPath id="m2c"><path d="M80.60,193.80 C80.48,195.67 79.97,201.47 79.90,205.00 C79.83,208.53 80.02,211.67 80.20,215.00 C80.38,218.33 80.68,220.83 81.00,225.00 C81.32,229.17 81.77,235.00 82.10,240.00 C82.43,245.00 82.67,248.33 83.00,255.00 C83.33,261.67 83.77,272.50 84.10,280.00 C84.43,287.50 84.77,295.67 85.00,300.00 C85.23,304.33 85.27,304.17 85.50,306.00 C85.73,307.83 85.92,309.50 86.40,311.00 C86.88,312.50 87.68,314.00 88.40,315.00 C89.12,316.00 90.32,316.67 90.70,317.00L91.03,316.93 L93.10,318.32 L95.34,319.66 L97.75,320.96 L100.33,322.21 L103.05,323.40 L105.92,324.53 L108.93,325.60 L112.06,326.60 L115.31,327.53 L118.68,328.40 L122.14,329.19 L125.70,329.90 L129.33,330.54 L133.03,331.10 L136.80,331.57 L140.61,331.96 L144.45,332.27 L148.33,332.50 L152.21,332.63 L156.10,332.69 L159.98,332.65 L163.85,332.53 L167.68,332.33 L171.47,332.04 L175.21,331.67 L178.89,331.21 L182.49,330.67 L186.01,330.05 L189.43,329.36 L192.75,328.58 L195.96,327.73 L199.05,326.82 L202.00,325.83 L204.81,324.77 L207.47,323.66 L209.98,322.48 L212.32,321.24 L214.49,319.96 L216.49,318.62 L218.31,317.24 L219.93,315.82 L221.37,314.36 L222.61,312.86 L223.65,311.34 L224.48,309.80 L225.11,308.23  L224.70,308.20 C224.88,307.67 225.52,306.37 225.80,305.00 C226.08,303.63 226.23,302.50 226.40,300.00 C226.57,297.50 226.68,298.33 226.80,290.00 C226.92,281.67 226.97,258.57 227.10,250.00 C227.23,241.43 227.47,243.32 227.60,238.60 C227.73,233.88 227.82,227.32 227.90,221.70 C227.98,216.08 228.12,208.83 228.10,204.90 C228.08,200.97 228.03,199.88 227.80,198.10 C227.57,196.32 227.23,195.35 226.70,194.20 C226.17,193.05 224.95,191.70 224.60,191.20 Z"/></clipPath>
<g clip-path="url(#m2c)" class="mpl"><line x1="83.99" y1="185" x2="91.98" y2="340"/><line x1="87.62" y1="185" x2="95.33" y2="340"/><line x1="91.04" y1="185" x2="98.49" y2="340"/><line x1="95.59" y1="185" x2="102.71" y2="340"/><line x1="99.84" y1="185" x2="106.64" y2="340"/><line x1="105.85" y1="185" x2="112.20" y2="340"/><line x1="110.61" y1="185" x2="116.61" y2="340"/><line x1="115.59" y1="185" x2="121.21" y2="340"/><line x1="119.52" y1="185" x2="124.86" y2="340"/><line x1="124.08" y1="185" x2="129.07" y2="340"/><line x1="128.33" y1="185" x2="133.01" y2="340"/><line x1="133.20" y1="185" x2="137.51" y2="340"/><line x1="138.06" y1="185" x2="142.02" y2="340"/><line x1="142.73" y1="185" x2="146.33" y2="340"/><line x1="147.80" y1="185" x2="151.03" y2="340"/><line x1="154.64" y1="185" x2="157.35" y2="340"/><line x1="160.96" y1="185" x2="163.20" y2="340"/><line x1="166.14" y1="185" x2="168.00" y2="340"/><line x1="171.73" y1="185" x2="173.17" y2="340"/><line x1="177.32" y1="185" x2="178.35" y2="340"/><line x1="183.23" y1="185" x2="183.81" y2="340"/><line x1="188.51" y1="185" x2="188.70" y2="340"/><line x1="193.17" y1="185" x2="193.02" y2="340"/><line x1="197.32" y1="185" x2="196.85" y2="340"/><line x1="202.39" y1="185" x2="201.55" y2="340"/><line x1="206.74" y1="185" x2="205.57" y2="340"/><line x1="211.30" y1="185" x2="209.79" y2="340"/><line x1="215.24" y1="185" x2="213.44" y2="340"/><line x1="219.59" y1="185" x2="217.46" y2="340"/><line x1="224.15" y1="185" x2="221.68" y2="340"/></g>
<path d="M80.60,193.80 C80.48,195.67 79.97,201.47 79.90,205.00 C79.83,208.53 80.02,211.67 80.20,215.00 C80.38,218.33 80.68,220.83 81.00,225.00 C81.32,229.17 81.77,235.00 82.10,240.00 C82.43,245.00 82.67,248.33 83.00,255.00 C83.33,261.67 83.77,272.50 84.10,280.00 C84.43,287.50 84.77,295.67 85.00,300.00 C85.23,304.33 85.27,304.17 85.50,306.00 C85.73,307.83 85.92,309.50 86.40,311.00 C86.88,312.50 87.68,314.00 88.40,315.00 C89.12,316.00 90.32,316.67 90.70,317.00" class="mo"/>
<path d="M224.60,191.20 C224.95,191.70 226.17,193.05 226.70,194.20 C227.23,195.35 227.57,196.32 227.80,198.10 C228.03,199.88 228.08,200.97 228.10,204.90 C228.12,208.83 227.98,216.08 227.90,221.70 C227.82,227.32 227.73,233.88 227.60,238.60 C227.47,243.32 227.23,241.43 227.10,250.00 C226.97,258.57 226.92,281.67 226.80,290.00 C226.68,298.33 226.57,297.50 226.40,300.00 C226.23,302.50 226.08,303.63 225.80,305.00 C225.52,306.37 224.88,307.67 224.70,308.20" class="mo"/>
<path d="M91.03,316.93 L93.10,318.32 L95.34,319.66 L97.75,320.96 L100.33,322.21 L103.05,323.40 L105.92,324.53 L108.93,325.60 L112.06,326.60 L115.31,327.53 L118.68,328.40 L122.14,329.19 L125.70,329.90 L129.33,330.54 L133.03,331.10 L136.80,331.57 L140.61,331.96 L144.45,332.27 L148.33,332.50 L152.21,332.63 L156.10,332.69 L159.98,332.65 L163.85,332.53 L167.68,332.33 L171.47,332.04 L175.21,331.67 L178.89,331.21 L182.49,330.67 L186.01,330.05 L189.43,329.36 L192.75,328.58 L195.96,327.73 L199.05,326.82 L202.00,325.83 L204.81,324.77 L207.47,323.66 L209.98,322.48 L212.32,321.24 L214.49,319.96 L216.49,318.62 L218.31,317.24 L219.93,315.82 L221.37,314.36 L222.61,312.86 L223.65,311.34 L224.48,309.80 L225.11,308.23 L224.90,340.50 L224.90,338.10 L220.43,350.60 L217.23,353.83 L213.30,356.87 L208.68,359.69 L203.42,362.25 L197.59,364.52 L191.26,366.49 L184.49,368.11 L177.37,369.39 L169.97,370.29 L162.40,370.81 L154.73,370.95 L147.05,370.70 L139.45,370.06 L132.03,369.05 L124.87,367.67 L118.04,365.94 L111.65,363.88 L105.74,361.52 L100.40,358.88 L95.70,355.99 L90.70,348.60 L90.70,351.00  Z" fill="#fff"/>
<path d="M91.03,316.93 L93.10,318.32 L95.34,319.66 L97.75,320.96 L100.33,322.21 L103.05,323.40 L105.92,324.53 L108.93,325.60 L112.06,326.60 L115.31,327.53 L118.68,328.40 L122.14,329.19 L125.70,329.90 L129.33,330.54 L133.03,331.10 L136.80,331.57 L140.61,331.96 L144.45,332.27 L148.33,332.50 L152.21,332.63 L156.10,332.69 L159.98,332.65 L163.85,332.53 L167.68,332.33 L171.47,332.04 L175.21,331.67 L178.89,331.21 L182.49,330.67 L186.01,330.05 L189.43,329.36 L192.75,328.58 L195.96,327.73 L199.05,326.82 L202.00,325.83 L204.81,324.77 L207.47,323.66 L209.98,322.48 L212.32,321.24 L214.49,319.96 L216.49,318.62 L218.31,317.24 L219.93,315.82 L221.37,314.36 L222.61,312.86 L223.65,311.34 L224.48,309.80 L225.11,308.23 " class="mo"/>
<path d="M90.70,317.00 C90.70,319.83 90.70,328.73 90.70,334.00 C90.70,339.27 89.87,344.93 90.70,348.60 C91.53,352.27 94.08,354.28 95.70,355.99 C97.31,357.71 98.73,357.96 100.40,358.88 C102.08,359.80 103.87,360.69 105.74,361.52 C107.62,362.35 109.59,363.15 111.65,363.88 C113.70,364.62 115.84,365.31 118.04,365.94 C120.25,366.57 122.54,367.15 124.87,367.67 C127.20,368.19 129.60,368.65 132.03,369.05 C134.46,369.45 136.95,369.79 139.45,370.06 C141.96,370.34 144.50,370.55 147.05,370.70 C149.59,370.84 152.17,370.93 154.73,370.95 C157.28,370.97 159.86,370.92 162.40,370.81 C164.94,370.70 167.48,370.53 169.97,370.29 C172.47,370.05 174.95,369.75 177.37,369.39 C179.79,369.02 182.17,368.60 184.49,368.11 C186.80,367.63 189.07,367.08 191.26,366.49 C193.44,365.89 195.57,365.23 197.59,364.52 C199.62,363.82 201.58,363.05 203.42,362.25 C205.27,361.44 207.03,360.58 208.68,359.69 C210.33,358.79 211.88,357.85 213.30,356.87 C214.73,355.89 216.04,354.87 217.23,353.83 C218.42,352.78 219.15,353.22 220.43,350.60 C221.71,347.98 224.15,342.47 224.90,338.10 C225.65,333.73 224.93,329.33 224.90,324.35 C224.87,319.37 224.73,310.89 224.70,308.20" class="mo"/>
<path d="M80.27,193.81 L80.26,192.20 L80.45,190.58 L80.85,188.97 L81.46,187.37 L82.28,185.78 L83.31,184.20 L84.54,182.65 L85.96,181.13 L87.58,179.64 L89.39,178.18 L91.39,176.76 L93.56,175.39 L95.91,174.06 L98.42,172.79 L101.09,171.57 L103.91,170.41 L106.87,169.31 L109.97,168.28 L113.19,167.31 L116.52,166.42 L119.97,165.60 L123.50,164.86 L127.13,164.19 L130.83,163.61 L134.59,163.11 L138.40,162.69 L142.26,162.35 L146.15,162.10 L150.06,161.94 L153.98,161.87 L157.89,161.88 L161.79,161.97 L165.66,162.16 L169.50,162.43 L173.29,162.79 L177.02,163.23 L180.68,163.75 L184.26,164.36 L187.75,165.04 L191.13,165.80 L194.41,166.64 L197.57,167.55 L200.59,168.53 L203.48,169.58 L206.22,170.70 L208.81,171.87 L211.23,173.11 L213.49,174.40 L215.57,175.73 L217.46,177.12 L219.17,178.55 L220.69,180.01 L222.01,181.51 L223.13,183.05 L224.05,184.60 L224.76,186.18 L225.26,187.77 L225.55,189.38 L225.63,190.99 L224.37,190.99 L224.12,192.24 L223.66,193.48 L223.00,194.71 L222.12,195.93 L221.05,197.12 L219.77,198.30 L218.29,199.45 L216.62,200.58 L214.75,201.67 L212.71,202.72 L210.49,203.74 L208.09,204.72 L205.54,205.66 L202.82,206.55 L199.96,207.39 L196.95,208.18 L193.82,208.91 L190.56,209.59 L187.19,210.21 L183.71,210.77 L180.14,211.28 L176.49,211.71 L172.77,212.09 L168.99,212.40 L165.15,212.64 L161.28,212.82 L157.37,212.93 L153.45,212.97 L149.53,212.95 L145.61,212.86 L141.71,212.70 L137.84,212.47 L134.01,212.18 L130.23,211.82 L126.51,211.40 L122.86,210.92 L119.30,210.37 L115.84,209.77 L112.47,209.10 L109.23,208.38 L106.10,207.61 L103.11,206.78 L100.26,205.91 L97.55,204.98 L95.01,204.02 L92.63,203.01 L90.42,201.96 L88.39,200.88 L86.55,199.76 L84.89,198.62 L83.43,197.45 L82.16,196.26 L81.10,195.05 L80.25,193.82  Z" class="mo" style="fill:#fff"/>
<path d="M87.59,179.63 C86.07,180.93 85.89,182.29 85.25,184.18 L85.06,184.90 L85.00,185.62 L85.05,186.33 L85.23,187.05 L85.52,187.76 L85.94,188.46 L86.47,189.16 L87.12,189.86 L87.89,190.54 L88.77,191.22 L89.76,191.88 L90.87,192.54 L92.08,193.18 L93.41,193.80 L94.83,194.41 L96.37,195.01 L98.00,195.59 L99.72,196.15 L101.55,196.69 L103.46,197.21 L105.46,197.71 L107.54,198.18 L109.71,198.64 L111.95,199.07 L114.26,199.47 L116.64,199.85 L119.09,200.21 L121.59,200.54 L124.16,200.84 L126.77,201.11 L129.43,201.36 L132.13,201.57 L134.86,201.76 L137.63,201.92 L140.43,202.05 L143.25,202.15 L146.09,202.22 L148.94,202.26 L151.79,202.27 L154.65,202.25 L157.51,202.20 L160.35,202.12 L163.19,202.01 L166.01,201.87 L168.80,201.71 L171.57,201.51 L174.30,201.28 L177.00,201.03 L179.66,200.74 L182.26,200.43 L184.82,200.10 L187.32,199.73 L189.76,199.34 L192.14,198.93 L194.45,198.49 L196.68,198.03 L198.84,197.55 L200.92,197.04 L202.91,196.51 L204.81,195.97 L206.63,195.40 L208.35,194.82 L209.97,194.22 L211.49,193.60 L212.91,192.97 L214.23,192.33 L215.43,191.67 L216.53,191.00 L217.51,190.32 L218.39,189.63 L219.14,188.94 L219.78,188.23 L220.30,187.53 L220.71,186.81 L220.99,186.10 L221.16,185.38 L221.20,184.67 L221.13,183.95 L220.94,183.24 C220.26,181.35 220.33,179.55 218.82,178.24" class="mo"/>
</g>
<!-- arrows -->
<g class="ar">
<line x1="508" y1="251.4" x2="591" y2="251.4"/>
<line x1="496.1" y1="268" x2="496.1" y2="365"/>
<line x1="628" y1="279.1" x2="686" y2="279.1"/>
<line x1="616.9" y1="295" x2="616.9" y2="366"/>
</g>
<g fill="#000">
<path d="M503.1,251.4 L511.1,249.3 L510.3,251.4 L511.1,253.5 Z"/>
<path d="M596.2,251.4 L588.2,249.3 L589,251.4 L588.2,253.5 Z"/>
<path d="M496.1,262.8 L494,270.8 L496.1,270 L498.2,270.8 Z"/>
<path d="M496.1,370.3 L494,362.3 L496.1,363.1 L498.2,362.3 Z"/>
<path d="M623.4,279.1 L631.4,277 L630.6,279.1 L631.4,281.2 Z"/>
<path d="M690.6,279.1 L682.6,277 L683.4,279.1 L682.6,281.2 Z"/>
<path d="M616.9,290.1 L614.8,298.1 L616.9,297.3 L619,298.1 Z"/>
<path d="M616.9,371 L614.8,363 L616.9,363.8 L619,363 Z"/>
</g>
<g class="dim">
<text x="551" y="250" text-anchor="middle">44 cm</text>
<text x="658.5" y="277" text-anchor="middle">38 cm</text>
<text transform="translate(494.6,318.7) rotate(-90)" text-anchor="middle">36 cm</text>
<text transform="translate(615.2,332) rotate(-90)" text-anchor="middle">31,5 cm</text>
</g>
<!-- weight -->
<g fill="#000">
<ellipse cx="594.85" cy="428.6" rx="5.8" ry="2.0"/>
<rect x="593" y="429.5" width="4.5" height="5"/>
<rect x="589.2" y="433.8" width="11.5" height="14.2" rx="0.6"/>
</g>
<text x="603.7" y="441.7" style="font-size:7.5px;font-weight:bold" fill="#222">max.</text>
<text x="622.6" y="442.2" style="font-size:10.3px;font-weight:bold">100</text>
<text x="642.2" y="442.2" style="font-size:8px;font-weight:bold">kg</text>

<g class="ld">
<line x1="186" y1="121" x2="164.5" y2="157"/>
<line x1="189.4" y1="372.9" x2="215.9" y2="410.5"/>
<line x1="455.2" y1="90.3" x2="416.3" y2="116"/>
<line x1="413.7" y1="375.7" x2="439.2" y2="413.6"/>
</g>
<g class="lab">
<text x="184.9" y="114.1">B</text>
<text x="217.3" y="417.9">A</text>
<text x="458.8" y="97.1">D</text>
<text x="443.2" y="422.6">C</text>
</g>
<g class="ft" text-anchor="middle">
<text transform="translate(364,492.4) scale(1,1.22)">HALMAR Sp. z o.o.</text>
<text transform="translate(364,502.5) scale(1,1.22)">ul. Centralnego Okręgu Przemysłowego 2, 37-450 Stalowa Wola, POLSKA / POLAND</text>
<text transform="translate(364,511.7) scale(1,1.22)" style="font-size:6.75px">tel. +48 15 843 28 10, fax: +48 15 842 19 57, e-mail: office@halmar.com.pl</text>
</g>
<text x="700" y="481.5" style="font-size:10px;font-weight:bold" fill="#222">v.2</text>
<text transform="translate(727.7,532.5) rotate(-45)" style="font-size:8.4px;font-weight:bold" fill="#bb1430">NOWOŚĆ</text>
</svg>
</body></html>
